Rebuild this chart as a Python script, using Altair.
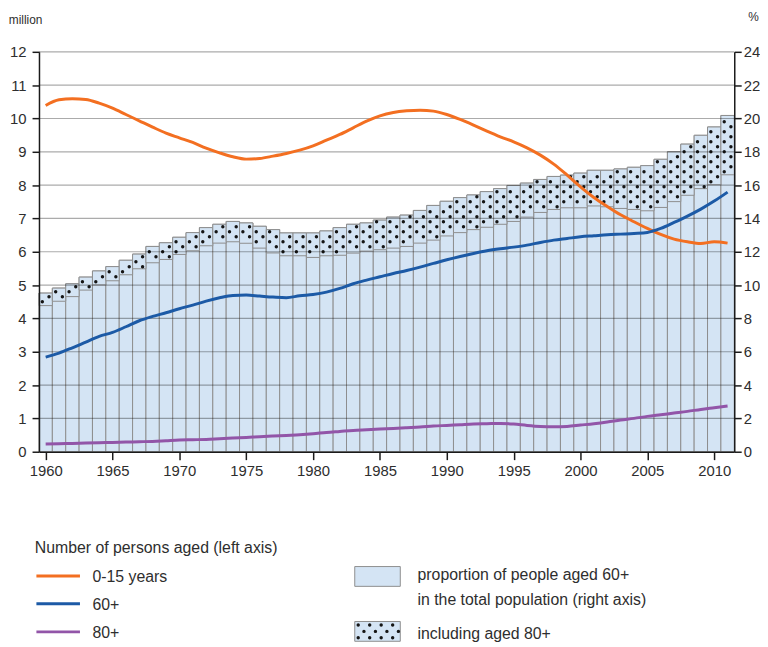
import altair as alt
import pandas as pd

# ---------------- data ----------------
years = list(range(1960, 2012))

# proportion of people aged 60+ in total population (%), bar top
share60 = [9.52, 9.82, 10.08, 10.48, 10.85, 11.11, 11.49, 11.86, 12.32, 12.54,
           12.87, 13.15, 13.45, 13.65, 13.82, 13.73, 13.53, 13.33, 13.13, 13.13,
           13.13, 13.25, 13.45, 13.65, 13.73, 13.90, 14.08, 14.20, 14.48, 14.78,
           15.03, 15.25, 15.41, 15.61, 15.79, 15.98, 16.12, 16.34, 16.52, 16.60,
           16.72, 16.89, 16.89, 16.97, 17.07, 17.17, 17.55, 18.00, 18.46, 18.99,
           19.49, 20.18]

# of which aged 80+ (%), dotted part
share80 = [0.75, 0.79, 0.77, 0.78, 0.84, 0.85, 0.87, 0.88, 0.98, 1.00,
           1.03, 1.09, 1.09, 1.13, 1.22, 1.22, 1.31, 1.40, 1.37, 1.37,
           1.47, 1.49, 1.66, 1.73, 1.69, 1.78, 1.86, 1.88, 1.96, 2.08,
           2.08, 2.10, 2.08, 2.14, 2.14, 2.16, 2.04, 1.98, 1.98, 1.96,
           2.08, 2.14, 2.19, 2.37, 2.53, 2.71, 2.89, 2.99, 3.07, 3.20,
           3.47, 3.56]

# number of persons (million), left axis
aged_0_15 = [10.39, 10.56, 10.59, 10.57, 10.46, 10.31, 10.12, 9.93, 9.74, 9.56,
             9.42, 9.28, 9.11, 8.97, 8.85, 8.78, 8.80, 8.87, 8.95, 9.05,
             9.18, 9.35, 9.52, 9.72, 9.92, 10.08, 10.18, 10.23, 10.25, 10.22,
             10.12, 9.97, 9.80, 9.62, 9.45, 9.30, 9.12, 8.90, 8.63, 8.30,
             7.95, 7.63, 7.36, 7.11, 6.90, 6.70, 6.52, 6.38, 6.30, 6.25,
             6.30, 6.26]

aged_60 = [2.84, 2.96, 3.12, 3.29, 3.46, 3.58, 3.75, 3.93, 4.06, 4.17,
           4.29, 4.40, 4.52, 4.62, 4.69, 4.70, 4.67, 4.64, 4.62, 4.68,
           4.72, 4.79, 4.90, 5.04, 5.15, 5.25, 5.35, 5.44, 5.54, 5.65,
           5.76, 5.86, 5.95, 6.03, 6.09, 6.14, 6.20, 6.28, 6.35, 6.40,
           6.45, 6.48, 6.51, 6.53, 6.55, 6.58, 6.70, 6.88, 7.07, 7.28,
           7.52, 7.79]

aged_80 = [0.23, 0.24, 0.25, 0.26, 0.27, 0.28, 0.29, 0.30, 0.31, 0.33,
           0.35, 0.36, 0.37, 0.39, 0.41, 0.43, 0.45, 0.47, 0.49, 0.51,
           0.54, 0.58, 0.61, 0.64, 0.66, 0.68, 0.70, 0.72, 0.74, 0.77,
           0.79, 0.81, 0.83, 0.84, 0.85, 0.83, 0.79, 0.76, 0.75, 0.76,
           0.80, 0.84, 0.89, 0.95, 1.00, 1.06, 1.11, 1.16, 1.21, 1.27,
           1.32, 1.37]

series_names = ["0-15 years", "60+", "80+"]
series_colors = ["#f36f21", "#1c5aa6", "#9255a8"]

left_ticks = list(range(0, 13))
right_ticks = list(range(0, 25, 2))
x_ticks = list(range(1960, 2011, 5))

# ---------------- tables ----------------
bars = pd.DataFrame({"year": years, "share60": share60, "share80": share80})
bars["x0"] = bars["year"] - 0.5
bars["x1"] = bars["year"] + 0.5
bars["base80"] = bars["share60"] - bars["share80"]

lines = pd.concat([
    pd.DataFrame({"year": years, "value": vals, "series": name})
    for name, vals in zip(series_names, [aged_0_15, aged_60, aged_80])
])

# dot pattern for the 80+ part (staggered lattice in data units)
dot_rows = []
for yr, top, s80 in zip(years, share60, share80):
    bot = top - s80
    for k, dx in enumerate((-0.25, 0.25)):
        v = 0.3 * k
        while v < top:
            if bot + 0.1 < v < top - 0.1:
                dot_rows.append({"dx": yr + dx, "dy": v})
            v += 0.6
dots = pd.DataFrame(dot_rows)

grid = pd.DataFrame({"v": left_ticks[1:]})

FONT = "Liberation Sans"
TXT = "#2e2e2e"

xscale = alt.Scale(domain=[1959.5, 2011.5], nice=False, zero=False)
x_axis = alt.Axis(values=x_ticks, format="d", title=None, grid=False, tickSize=8,
                  tickColor="#1a1a1a", tickWidth=1.5, domainColor="#1a1a1a",
                  domainWidth=1.5, labelFontSize=15, labelPadding=4,
                  labelColor=TXT, labelFont=FONT, zindex=1)
rscale = alt.Scale(domain=[0, 24], nice=False, zero=True)
r_axis = alt.Axis(orient="right", values=right_ticks, title=None, grid=False,
                  tickSize=7, tickColor="#1a1a1a", tickWidth=1.5,
                  domainColor="#1a1a1a", domainWidth=1.5, labelFontSize=15,
                  labelPadding=2, labelColor=TXT, labelFont=FONT, zindex=1)
lscale = alt.Scale(domain=[0, 12], nice=False, zero=True)
l_axis = alt.Axis(orient="left", values=left_ticks, title=None, grid=False,
                  tickSize=7, tickColor="#1a1a1a", tickWidth=1.5,
                  domainColor="#1a1a1a", domainWidth=1.5, labelFontSize=15,
                  labelPadding=6, labelColor=TXT, labelFont=FONT, zindex=1)

BAR_FILL = "#d4e4f4"
BAR_STROKE = "#8e8e8e"

bar_layer = alt.Chart(bars).mark_rect(fill=BAR_FILL, stroke=BAR_STROKE, strokeWidth=1).encode(
    x=alt.X("x0:Q", scale=xscale, axis=x_axis),
    x2="x1:Q",
    y=alt.Y("share60:Q", scale=rscale, axis=r_axis),
    y2=alt.datum(0),
)
dotted_layer = alt.Chart(bars).mark_rect(fill=BAR_FILL, stroke=BAR_STROKE, strokeWidth=1).encode(
    x=alt.X("x0:Q", scale=xscale, axis=x_axis),
    x2="x1:Q",
    y=alt.Y("share60:Q", scale=rscale, axis=r_axis),
    y2="base80:Q",
)
dot_layer = alt.Chart(dots).mark_circle(size=12, color="#151515", opacity=1).encode(
    x=alt.X("dx:Q", scale=xscale, axis=x_axis),
    y=alt.Y("dy:Q", scale=rscale, axis=r_axis),
)
right_group = alt.layer(bar_layer, dotted_layer, dot_layer)

grid_layer = alt.Chart(grid).mark_rule(stroke="black", strokeOpacity=0.33, strokeWidth=1.2).encode(
    y=alt.Y("v:Q", scale=lscale, axis=l_axis),
)
line_layer = alt.Chart(lines).mark_line(strokeWidth=3, interpolate="monotone").encode(
    x=alt.X("year:Q", scale=xscale, axis=x_axis),
    y=alt.Y("value:Q", scale=lscale, axis=l_axis),
    color=alt.Color("series:N", scale=alt.Scale(domain=series_names, range=series_colors), legend=None),
    detail="series:N",
)

one = pd.DataFrame({"a": [0]})


def text_at(txt, x, y, size=16, align="left"):
    return alt.Chart(one).mark_text(text=txt, align=align, baseline="middle", font=FONT,
                                    fontSize=size, color=TXT).encode(
        x=alt.value(x), y=alt.value(y))


# axis unit labels
unit_left = text_at("million", -30.5, -32, size=12)
unit_right = text_at("%", 716.5, -35, size=12)

# legend
leg = [text_at("Number of persons aged (left axis)", -4.3, 501)]
for i, (name, col) in enumerate(zip(series_names, series_colors)):
    ly = [529.5, 557.5, 586][i]
    leg.append(alt.Chart(one).mark_rule(stroke=col, strokeWidth=3).encode(
        x=alt.value(-2.6), x2=alt.value(41.4), y=alt.value(ly)))
    leg.append(text_at(name, 54, ly + 1.5))

leg.append(alt.Chart(one).mark_rect(fill=BAR_FILL, stroke=BAR_STROKE, strokeWidth=1).encode(
    x=alt.value(319), x2=alt.value(365), y=alt.value(520), y2=alt.value(540)))
leg.append(text_at("proportion of people aged 60+", 382.4, 529))
leg.append(text_at("in the total population (right axis)", 382.4, 554))
leg.append(alt.Chart(one).mark_rect(fill=BAR_FILL, stroke=BAR_STROKE, strokeWidth=1).encode(
    x=alt.value(319), x2=alt.value(365), y=alt.value(575.5), y2=alt.value(595.5)))
leg.append(text_at("including aged 80+", 382.4, 588))

ldots = []
for r, yy in enumerate([579.0, 585.5, 592.0]):
    xx = 322.5 + (5.8 if r % 2 else 0)
    while xx < 363.5:
        ldots.append({"px": xx, "py": yy})
        xx += 11.6
ldots = pd.DataFrame(ldots)
leg.append(alt.Chart(ldots).mark_circle(size=12, color="#151515", opacity=1).encode(
    x=alt.X("px:Q", scale=None, axis=None),
    y=alt.Y("py:Q", scale=None, axis=None)))

left_group = alt.layer(grid_layer, line_layer, unit_left, unit_right, *leg)

chart = alt.layer(right_group, left_group).resolve_scale(y="independent").properties(
    width=702.4,
    height=404,
    padding={"left": 31.3, "top": 41, "right": 26, "bottom": 194},
    autosize=alt.AutoSizeParams(type="none"),
    background="white",
).configure_view(stroke=None)

chart.save("out.html", embed_options={"renderer": "svg", "actions": False})
